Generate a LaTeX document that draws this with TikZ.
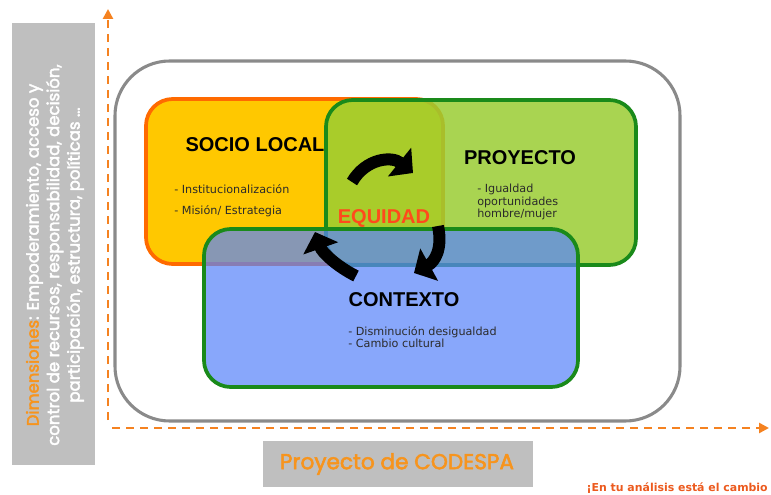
\documentclass[tikz,border=0pt]{standalone}
\usepackage{fontspec}
\setmainfont{DejaVu Sans}
\newfontfamily\titlef{Liberation Sans}
\newfontfamily\gothic{Poppins}[FakeBold=2.5]
\newfontfamily\verd{DejaVu Sans}
\usetikzlibrary{arrows.meta}
\definecolor{axisorange}{HTML}{F58220}
\definecolor{sociofill}{HTML}{FFC800}
\definecolor{socioedge}{HTML}{FF6A00}
\definecolor{proyfill}{HTML}{9ACD32}
\definecolor{boxgreen}{HTML}{1A8A1A}
\definecolor{ctxfill}{HTML}{5A85FA}
\definecolor{outergrey}{HTML}{8A8A8A}
\definecolor{panelgrey}{HTML}{BFBFBF}
\definecolor{equired}{HTML}{FF4A1C}
\definecolor{labelorange}{HTML}{F7941D}
\definecolor{slogan}{HTML}{EC5A1E}
\definecolor{itemtext}{HTML}{2B2B2B}
\begin{document}
\begin{tikzpicture}[x=0.75pt,y=-0.75pt,
  panel/.style={fill=panelgrey, draw=none, inner sep=0pt},
  axis/.style={draw=axisorange, line width=1.9pt, dash pattern=on 6pt off 4.5pt, -{Triangle[length=7.5pt,width=7.5pt]}},
  zone/.style={rectangle, rounded corners=20pt, line width=2.8pt, inner sep=0pt},
  title/.style={font=\titlef\bfseries\fontsize{15}{17}\selectfont, text=black, inner sep=0pt},
  items/.style={font=\verd\fontsize{8.4}{9.5}\selectfont, text=itemtext, align=left, inner sep=0pt, anchor=west},
  cycle/.style={line width=9pt, draw=black, -{Triangle[length=13pt,width=27pt]}}
]
\useasboundingbox (0,0) rectangle (771,495);
% left dimension panel
\node[panel, minimum width=83*0.75pt, minimum height=442*0.75pt] (dimpanel) at (53.5,244) {};
\node[rotate=90, align=center, font=\gothic\fontsize{12.4}{15.4}\selectfont, text=white] (dimtext) at (55,255)
 {{\color{labelorange}Dimensiones}: Empoderamiento, acceso y\\control de recursos, responsabilidad, decisión,\\participación, estructura, políticas \dots};
% axes
\coordinate (yaxbot) at (108,420);
\coordinate (yaxtop) at (108,9);
\coordinate (xaxl) at (112,428);
\coordinate (xaxr) at (769,428);
\draw[axis] (yaxbot) -- (yaxtop);
\draw[axis] (xaxl) -- (xaxr);
% outer frame
\node[rectangle, rounded corners=41pt, draw=outergrey, line width=2.3pt, minimum width=565*0.75pt, minimum height=360*0.75pt] (frame) at (397.5,241) {};
% zones
\node[zone, fill=sociofill, draw=socioedge, minimum width=297*0.75pt, minimum height=165*0.75pt] (socio) at (294.5,181.5) {};
\node[zone, fill=proyfill, fill opacity=0.85, draw=boxgreen, minimum width=310*0.75pt, minimum height=165*0.75pt] (proy) at (481,182.5) {};
\node[zone, fill=ctxfill, fill opacity=0.72, draw=boxgreen, minimum width=374*0.75pt, minimum height=158*0.75pt] (ctx) at (391,308) {};
% titles
\node[title] (sociot) at (255,145) {SOCIO LOCAL};
\node[title] (proyt) at (520,158) {PROYECTO};
\node[title] (ctxt) at (404,300) {CONTEXTO};
\node[title, text=equired] (equi) at (384,218) {EQUIDAD};
% items
\node[items] (socioi) at (174,201) {- Institucionalización\\[6.5pt]- Misión/ Estrategia};
\node[items] (proyi) at (477,202) {- Igualdad\\oportunidades\\hombre/mujer};
\node[items] (ctxi) at (348,337) {- Disminución desigualdad\\- Cambio cultural};
% cycle arrows
\coordinate (a1s) at (352,182);
\coordinate (a1e) at (413,173);
\coordinate (a2s) at (438,226);
\coordinate (a2e) at (414,273);
\coordinate (a3s) at (356,276);
\coordinate (a3e) at (315,232);
\draw[cycle] (a1s) .. controls (366,158) and (392,156) .. (a1e);
\draw[cycle] (a2s) .. controls (443,250) and (434,262) .. (a2e);
\draw[cycle] (a3s) .. controls (336,266) and (322,252) .. (a3e);
% bottom label
\node[panel, minimum width=270*0.75pt, minimum height=46*0.75pt] (codespa) at (398,464) {};
\node[font=\gothic\fontsize{16.2}{18}\selectfont, text=labelorange, inner sep=0pt] (codespat) at (397,464) {Proyecto de CODESPA};
\node[font=\verd\bfseries\fontsize{8.2}{9}\selectfont, text=slogan, inner sep=0pt, anchor=east] (slog) at (768,488) {¡En tu análisis está el cambio};
\end{tikzpicture}
\end{document}
